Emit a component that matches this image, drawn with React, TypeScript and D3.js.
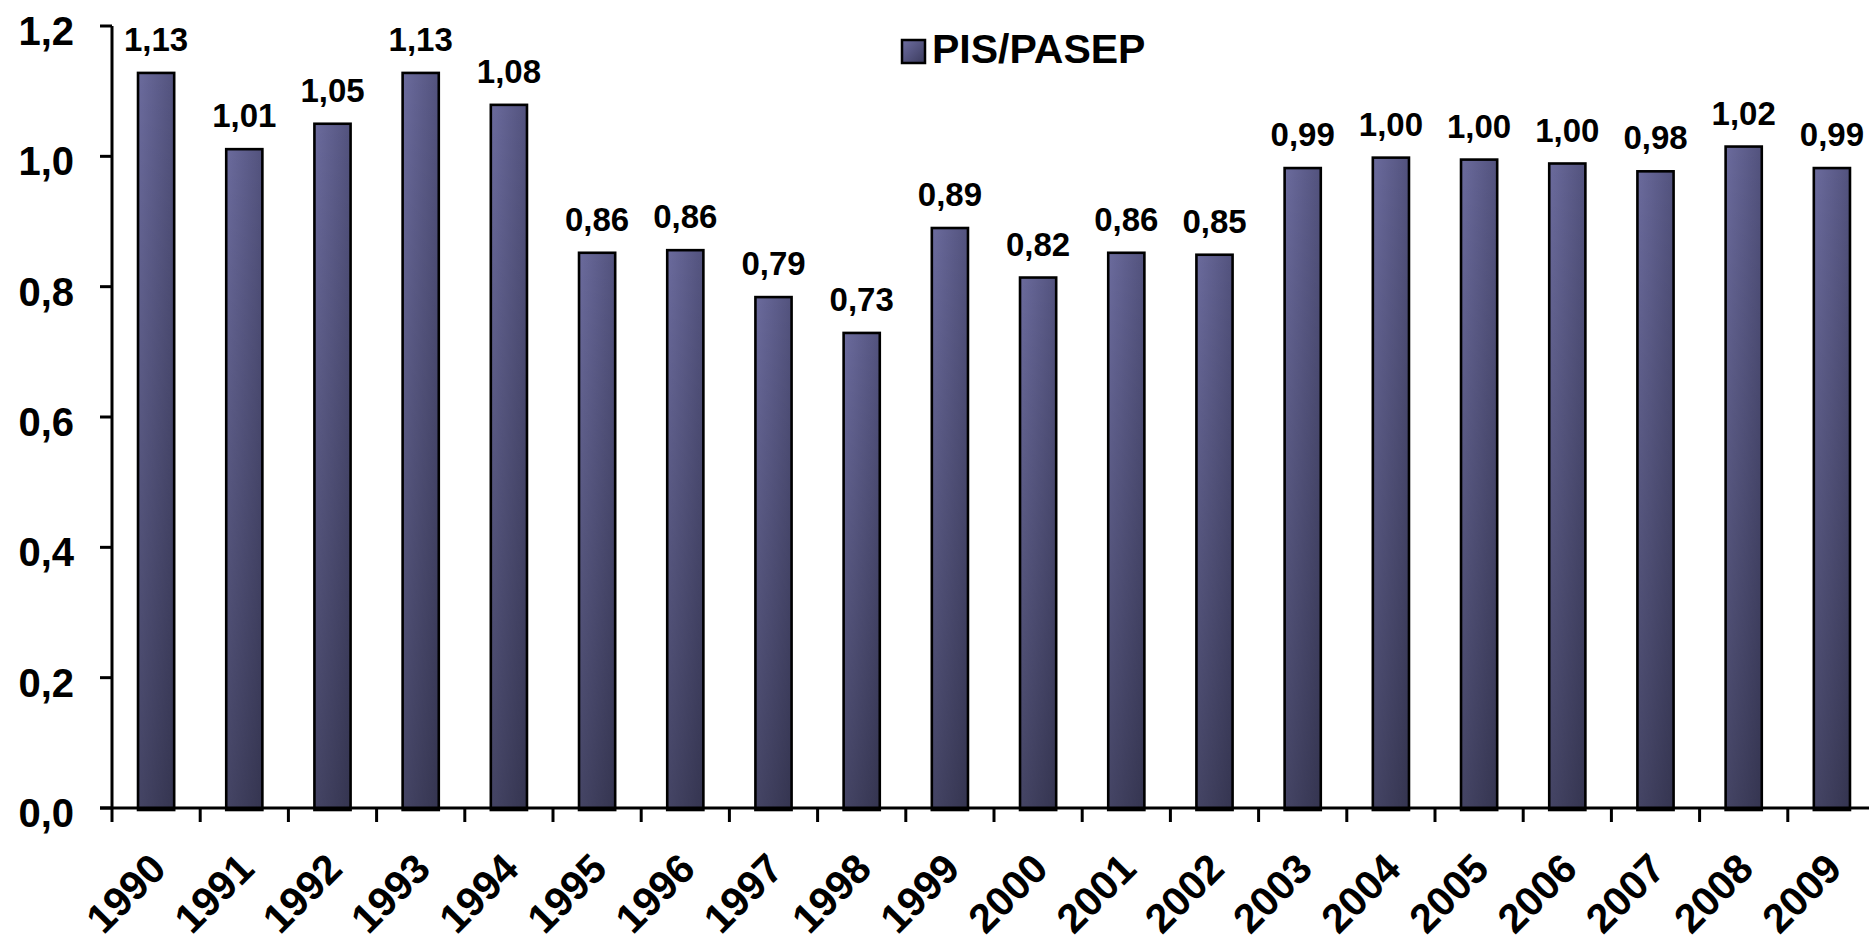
import React from "react";
import * as d3 from "d3";

const years = ["1990","1991","1992","1993","1994","1995","1996","1997","1998","1999","2000","2001","2002","2003","2004","2005","2006","2007","2008","2009"];
const values = [1.128,1.011,1.050,1.128,1.079,0.852,0.856,0.784,0.729,0.890,0.814,0.852,0.849,0.982,0.998,0.995,0.989,0.977,1.015,0.982];
const valueLabels = ["1,13","1,01","1,05","1,13","1,08","0,86","0,86","0,79","0,73","0,89","0,82","0,86","0,85","0,99","1,00","1,00","1,00","0,98","1,02","0,99"];
const yTicks = [0, 0.2, 0.4, 0.6, 0.8, 1.0, 1.2];
const seriesName = "PIS/PASEP";

const W = 1869;
const H = 946;
const FONT = "'Liberation Sans', Arial, Helvetica, sans-serif";

export default function App() {
  const left = 112;
  const right = 1876;
  const top = 26;
  const bottom = 808;

  const x = d3.scaleBand<string>().domain(years).range([left, right]).paddingInner(0.59).paddingOuter(0.295);
  const y = d3.scaleLinear().domain([0, 1.2]).range([bottom, top]);
  const step = x.step();
  const fmt = (v: number) => d3.format(".1f")(v).replace(".", ",");

  return (
    <svg width={W} height={H} style={{ position: "absolute", left: 0, top: 0, background: "#fff" }}>
      <defs>
        <linearGradient id="hg" x1="0" y1="0" x2="1" y2="0">
          <stop offset="0" stopColor="#6b6b9d" />
          <stop offset="1" stopColor="#52527d" />
        </linearGradient>
        <linearGradient id="vg" x1="0" y1="0" x2="0" y2="1">
          <stop offset="0" stopColor="#000" stopOpacity="0" />
          <stop offset="1" stopColor="#000" stopOpacity="0.36" />
        </linearGradient>
        <linearGradient id="lg" x1="0" y1="0" x2="1" y2="1">
          <stop offset="0" stopColor="#6e6ea2" />
          <stop offset="1" stopColor="#3a3a5c" />
        </linearGradient>
      </defs>

      {/* bars */}
      {years.map((yr, i) => {
        const bx = x(yr)!;
        const bw = x.bandwidth();
        const by = y(values[i]);
        const bh = bottom - by;
        return (
          <g key={yr}>
            <rect x={bx} y={by} width={bw} height={bh} fill="url(#hg)" />
            <rect x={bx} y={by} width={bw} height={bh} fill="url(#vg)" />
            <rect x={bx} y={by} width={bw} height={bh + 2} fill="none" stroke="#000" strokeWidth={2.6} />
          </g>
        );
      })}

      {/* y axis */}
      <line x1={left} x2={left} y1={top} y2={bottom} stroke="#000" strokeWidth={3} />
      {yTicks.map((t) => (
        <g key={t}>
          <line x1={left - 12} x2={left} y1={y(t)} y2={y(t)} stroke="#000" strokeWidth={3} />
          <text
            x={74}
            y={y(t) + 19}
            textAnchor="end"
            fontFamily={FONT}
            fontWeight="bold"
            fontSize={40}
            fill="#000"
          >
            {fmt(t)}
          </text>
        </g>
      ))}

      {/* x axis */}
      <line x1={left - 12} x2={W} y1={bottom} y2={bottom} stroke="#000" strokeWidth={3} />
      {years.map((yr, i) => (
        <line key={yr} x1={left + i * step} x2={left + i * step} y1={bottom} y2={bottom + 14} stroke="#000" strokeWidth={3} />
      ))}
      {years.map((yr) => {
        const cx = x(yr)! + x.bandwidth() / 2;
        return (
          <text
            key={yr}
            transform={`translate(${cx + 12},871) rotate(-45)`}
            textAnchor="end"
            fontFamily={FONT}
            fontWeight="bold"
            fontSize={41}
            fill="#000"
          >
            {yr}
          </text>
        );
      })}

      {/* value labels */}
      {years.map((yr, i) => {
        const cx = x(yr)! + x.bandwidth() / 2;
        return (
          <text
            key={yr}
            x={cx}
            y={y(values[i]) - 22}
            textAnchor="middle"
            fontFamily={FONT}
            fontWeight="bold"
            fontSize={33}
            fill="#000"
          >
            {valueLabels[i]}
          </text>
        );
      })}

      {/* legend */}
      <rect x={902} y={40} width={23} height={23} fill="url(#lg)" stroke="#000" strokeWidth={2.5} />
      <text x={932} y={63} fontFamily={FONT} fontWeight="bold" fontSize={41} fill="#000">
        {seriesName}
      </text>
    </svg>
  );
}
